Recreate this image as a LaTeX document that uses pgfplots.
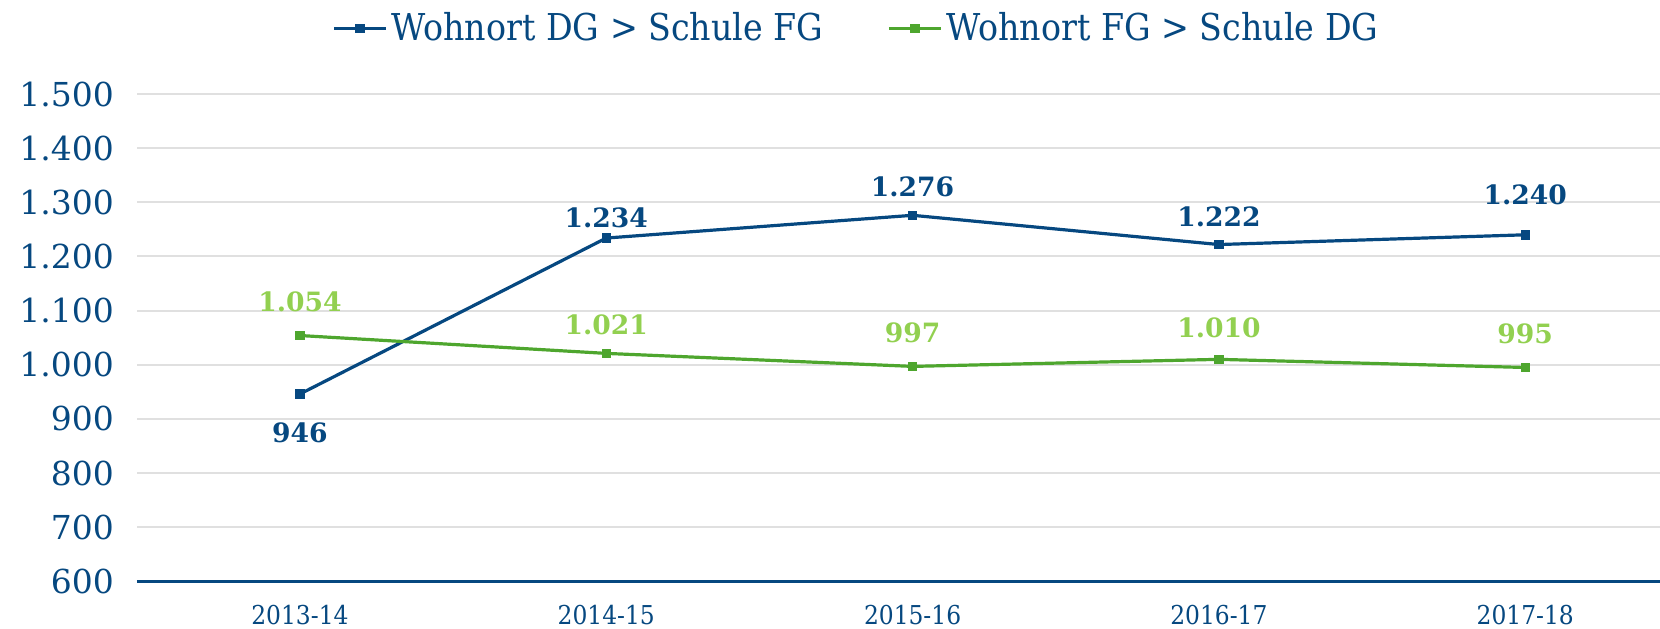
\documentclass[border=0pt]{standalone}
\usepackage{fontspec}
\setmainfont{DejaVu Serif Condensed}
\newfontfamily\widefont{DejaVu Serif}
\usepackage{pgfplots}
\usepackage{pgfplotstable}
\pgfplotsset{compat=1.18}
\definecolor{dgblue}{RGB}{6,72,128}
\definecolor{fggreen}{RGB}{78,166,46}
\definecolor{fglabel}{RGB}{146,208,80}
\definecolor{gridgray}{RGB}{224,224,224}

% x = school year index, off = label shift (pt)
\pgfplotstableread{
x y off
0 946 -19.5
1 1234 10
2 1276 14
3 1222 14
4 1240 20
}\dgfg
\pgfplotstableread{
x y off
0 1054 17
1 1021 14.5
2 997 17
3 1010 16
4 995 17
}\fgdg

\begin{document}
\begin{tikzpicture}
\begin{axis}[
  scale only axis,
  width=761.5pt, height=243.7pt,
  xmin=-0.532, xmax=4.44,
  ymin=600, ymax=1500,
  xtick={0,...,4},
  xticklabels={2013-14,2014-15,2015-16,2016-17,2017-18},
  ytick={700,800,...,1500},
  extra y ticks={600},
  extra y tick style={grid=none},
  ymajorgrids,
  grid style={gridgray, line width=1pt},
  axis x line*=bottom, axis y line*=left,
  x axis line style={dgblue, line width=1.5pt, -},
  y axis line style={draw=none},
  major tick length=0pt,
  /pgf/number format/1000 sep={.},
  /pgf/number format/assume math mode=true,
  yticklabel style={font=\widefont\fontsize{16.5}{20}\selectfont, text=dgblue, xshift=-8pt},
  xticklabel style={font=\fontsize{13}{15}\selectfont, text=dgblue, yshift=-8.5pt},
  clip=false,
  legend columns=2,
  legend style={at={(0.473,1.135)}, anchor=center, draw=none,
    font=\fontsize{18.5}{22}\selectfont, text=dgblue,
    /tikz/every even column/.append style={column sep=30pt}},
  legend image code/.code={\draw[#1,mark repeat=2,mark phase=2] plot coordinates {(0pt,0pt) (13pt,0pt) (26pt,0pt)};},
  nodes near coords,
  visualization depends on={\thisrow{off}\as\off},
  every node near coord/.append style={font=\widefont\bfseries\fontsize{13.3}{16}\selectfont, anchor=center, yshift=\off pt},
]
\addplot[dgblue, line width=1.6pt, mark=square*, mark size=2.1pt,
  mark options={line width=0.4pt},
  every node near coord/.append style={text=dgblue}]
  table[x=x, y=y] {\dgfg};
\addlegendentry{Wohnort DG > Schule FG}
\addplot[fggreen, line width=1.6pt, mark=square*, mark size=2.1pt,
  mark options={line width=0.4pt},
  every node near coord/.append style={text=fglabel}]
  table[x=x, y=y] {\fgdg};
\addlegendentry{Wohnort FG > Schule DG}
\end{axis}
\pgfresetboundingbox
\path ([shift={(-68.5pt,-23.5pt)}]current axis.south west) rectangle ([shift={(0pt,47pt)}]current axis.north east);
\end{tikzpicture}
\end{document}
